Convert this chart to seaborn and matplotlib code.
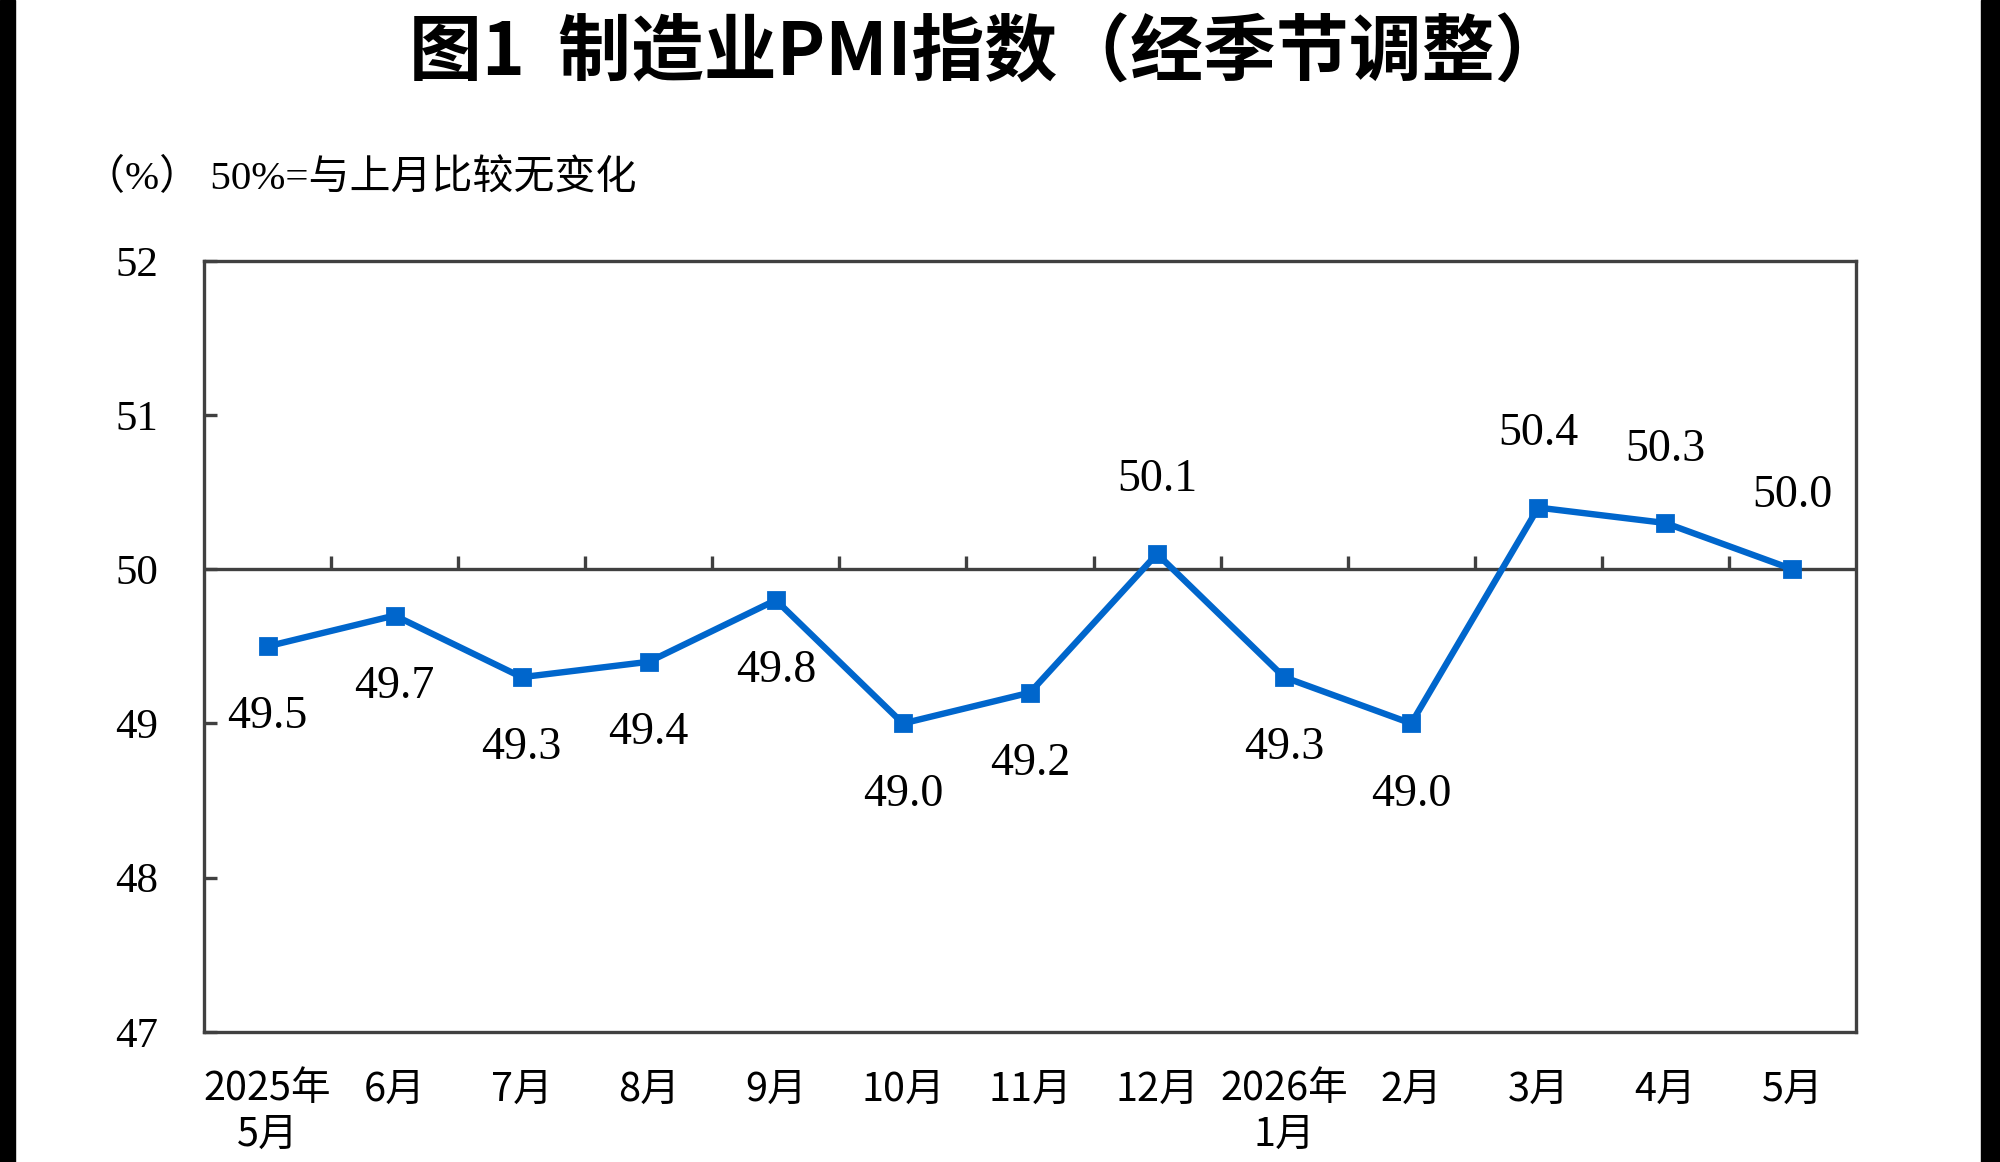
import numpy as np
import pandas as pd
import matplotlib
matplotlib.use("Agg")
import matplotlib.pyplot as plt
import seaborn as sns
from matplotlib.patches import Rectangle

# ---- data ----
months = ["2025年\n5月", "6月", "7月", "8月", "9月", "10月", "11月", "12月",
          "2026年\n1月", "2月", "3月", "4月", "5月"]
pmi = [49.5, 49.7, 49.3, 49.4, 49.8, 49.0, 49.2, 50.1, 49.3, 49.0, 50.4, 50.3, 50.0]
y_ticks = [47, 48, 49, 50, 51, 52]
title = "图1  制造业PMI指数（经季节调整）"
unit_note = "（%） 50%=与上月比较无变化"
baseline = 50

# ---- style ----
sns.set_theme(style="white")
plt.rcParams["font.family"] = ["Noto Sans CJK SC", "DejaVu Sans"]
plt.rcParams["axes.unicode_minus"] = False

blue = "#0066CC"
axis_col = "#404040"
serif = ["Liberation Serif", "Noto Sans CJK SC"]

fig = plt.figure(figsize=(20, 11.62), dpi=100)
fig.patch.set_facecolor("white")
ax = fig.add_axes([0.102, 0.112, 0.826, 0.6635])

df = pd.DataFrame({"month": months, "pmi": pmi})
sns.pointplot(data=df, x="month", y="pmi", order=months, color=blue,
              markers="s", errorbar=None, linewidth=4.6, markersize=12,
              markeredgewidth=2, ax=ax, zorder=3)

ax.set_xlim(-0.5, len(months) - 0.5)
ax.set_ylim(min(y_ticks), max(y_ticks))
ax.set_xlabel("")
ax.set_ylabel("")

ax.set_yticks(y_ticks)
ax.set_yticklabels([str(t) for t in y_ticks], fontfamily="Liberation Serif",
                   fontsize=31, color="black")
ax.set_xticks(range(len(months)))
ax.set_xticklabels(months, fontsize=28.5, linespacing=1.18, color="black")
ax.tick_params(axis="x", length=0, pad=27, bottom=False)
ax.tick_params(axis="y", direction="in", length=9.5, width=2.4,
               color=axis_col, pad=33, left=True)

for s in ax.spines.values():
    s.set_visible(True)
    s.set_color(axis_col)
    s.set_linewidth(2.4)

# 50% reference line with category-boundary ticks
ax.axhline(baseline, color=axis_col, lw=2.4, zorder=1.5)
bounds = np.arange(len(months) - 1) + 0.5
ax.plot(bounds, np.full(len(bounds), baseline), ls="none", marker=2,
        markersize=9.5, mew=2.4, color=axis_col, zorder=1.5)

# data labels
for i, v in enumerate(pmi):
    off = 53 if v >= baseline else -51
    ax.annotate(f"{v:.1f}", (i, v), xytext=(0, off), textcoords="offset points",
                ha="center", va="center", fontsize=33,
                fontfamily="Liberation Serif", color="black")

fig.text(0.494, 0.953, title, ha="center", va="center", fontsize=52.5,
         fontweight="bold", color="black")
fig.text(0.042, 0.846, unit_note, ha="left", va="center", fontsize=29.5,
         family=serif, color="black")

# black side bars of the original screenshot
fig.patches.append(Rectangle((0, 0), 15 / 2000, 1, transform=fig.transFigure,
                             color="black", zorder=10))
fig.patches.append(Rectangle((1981 / 2000, 0), 19 / 2000, 1,
                             transform=fig.transFigure, color="black", zorder=10))

fig.savefig("out.png", dpi=100)
